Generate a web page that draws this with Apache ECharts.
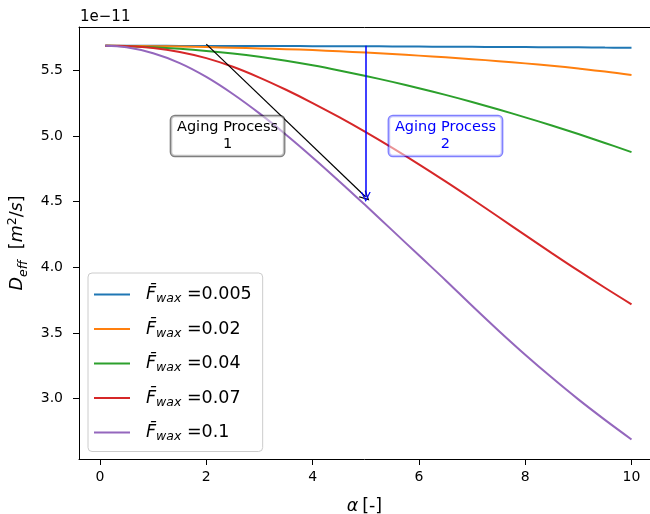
<!DOCTYPE html>
<html>
<head>
<meta charset="utf-8">
<script src="https://cdn.jsdelivr.net/npm/echarts@6/dist/echarts.min.js"></script>
<style>
  html, body { margin: 0; padding: 0; background: #fff; }
  #chart { width: 650px; height: 514px; }
</style>
</head>
<body>
<div id="chart"></div>
<script>
// Dimensionless time alpha
const alpha = [0.1, 0.5, 1, 1.5, 2, 2.5, 3, 3.5, 4, 4.5, 5, 5.5, 6, 6.5, 7, 7.5, 8, 8.5, 9, 9.5, 10];

// Effective diffusivity D_eff (units of 1e-11 m^2/s) for each wax fraction
const fwaxLabels = ['0.005', '0.02', '0.04', '0.07', '0.1'];
const dF0005 = [5.687, 5.687, 5.687, 5.686, 5.686, 5.686, 5.685, 5.685, 5.684, 5.684, 5.683, 5.682, 5.681, 5.680, 5.679, 5.678, 5.677, 5.676, 5.675, 5.673, 5.672];
const dF002  = [5.687, 5.686, 5.684, 5.681, 5.677, 5.672, 5.667, 5.661, 5.654, 5.645, 5.635, 5.624, 5.612, 5.599, 5.585, 5.570, 5.553, 5.535, 5.514, 5.491, 5.464];
const dF004  = [5.687, 5.684, 5.676, 5.664, 5.648, 5.628, 5.603, 5.573, 5.538, 5.499, 5.457, 5.412, 5.364, 5.313, 5.259, 5.202, 5.142, 5.080, 5.015, 4.947, 4.877];
const dF007  = [5.687, 5.684, 5.670, 5.640, 5.593, 5.527, 5.445, 5.352, 5.251, 5.143, 5.029, 4.909, 4.784, 4.654, 4.520, 4.383, 4.245, 4.108, 3.974, 3.844, 3.718];
const dF01   = [5.687, 5.675, 5.630, 5.555, 5.450, 5.320, 5.172, 5.010, 4.837, 4.656, 4.470, 4.281, 4.091, 3.902, 3.707, 3.517, 3.334, 3.160, 2.994, 2.838, 2.689];
const seriesValues = [dF0005, dF002, dF004, dF007, dF01];
const colors = ['#1f77b4', '#ff7f0e', '#2ca02c', '#d62728', '#9467bd'];

// Tick values
const xTicks = [0, 2, 4, 6, 8, 10];
const yTicks = [3.0, 3.5, 4.0, 4.5, 5.0, 5.5];

// Annotations (data coordinates)
const agingText1 = { text: 'Aging Process\n1', at: [2.4, 5.0] };
const agingText2 = { text: 'Aging Process\n2', at: [6.5, 5.0] };
const arrow1 = { from: [2.0, 5.7], to: [5.0, 4.535] };
const arrow2 = { from: [5.0, 5.687], to: [5.0, 4.535] };

const FONT = 'DejaVu Sans';
const X_MIN = -0.395, X_MAX = 10.348;
const Y_MIN = 2.54, Y_MAX = 5.83;
const openArrow = 'path://M0,10 L5,0 L10,10 L8.7,10 L5,2.6 L1.3,10 Z';

const lineSeries = fwaxLabels.map((name, k) => ({
  name: name,
  type: 'line',
  data: alpha.map((a, i) => [a, seriesValues[k][i]]),
  symbol: 'none',
  smooth: 0.4,
  lineStyle: { color: colors[k], width: 2 },
  itemStyle: { color: colors[k] },
  z: 2
}));

const boxLabel = (color, border) => ({
  show: true,
  position: 'inside',
  formatter: p => p.name,
  color: color,
  fontFamily: FONT,
  fontSize: 14.5,
  lineHeight: 17,
  align: 'center',
  backgroundColor: 'rgba(255,255,255,0.5)',
  borderColor: border,
  borderWidth: 1.3,
  borderRadius: 4,
  padding: [3, 6, 3, 6]
});

const annotationSeries = {
  name: 'annotations',
  type: 'line',
  data: [],
  z: 5,
  markLine: {
    silent: true,
    animation: false,
    symbol: ['none', openArrow],
    symbolSize: [10, 10],
    label: { show: false },
    data: [
      [{ coord: arrow1.from, lineStyle: { color: '#000', width: 1.2, type: 'solid' } }, { coord: arrow1.to }],
      [{ coord: arrow2.from, lineStyle: { color: '#0000ff', width: 1.5, type: 'solid' } }, { coord: arrow2.to }]
    ]
  },
  markPoint: {
    silent: true,
    animation: false,
    symbol: 'circle',
    symbolSize: 0,
    data: [
      { name: agingText1.text, coord: agingText1.at, label: boxLabel('#000', 'rgba(0,0,0,0.5)') },
      { name: agingText2.text, coord: agingText2.at, label: boxLabel('#0000ff', 'rgba(0,0,255,0.5)') }
    ]
  }
};

const axisBlack = { color: '#000', width: 1 };

const chart = echarts.init(document.getElementById('chart'), null, { renderer: 'canvas' });
chart.setOption({
  animation: false,
  backgroundColor: '#fff',
  textStyle: { fontFamily: FONT },
  grid: { left: 79, top: 27, right: 0, bottom: 55, containLabel: false, outerBoundsMode: 'none' },
  xAxis: [{
    type: 'value',
    min: X_MIN,
    max: X_MAX,
    name: '{a|α} {n|[-]}',
    nameLocation: 'middle',
    nameGap: 38,
    nameTextStyle: {
      rich: {
        a: { fontFamily: FONT, fontStyle: 'italic', fontSize: 17.5, color: '#000' },
        n: { fontFamily: FONT, fontSize: 17.5, color: '#000' }
      }
    },
    axisLine: { show: true, onZero: false, lineStyle: axisBlack },
    axisTick: { show: true, length: 6, customValues: xTicks, lineStyle: axisBlack },
    axisLabel: { customValues: xTicks, margin: 11, color: '#000', fontSize: 14, fontFamily: FONT, formatter: v => String(v) },
    splitLine: { show: false }
  }, {
    // top frame edge
    type: 'value',
    position: 'top',
    min: X_MIN,
    max: X_MAX,
    axisLine: { show: true, onZero: false, lineStyle: axisBlack },
    axisTick: { show: false },
    axisLabel: { show: false },
    splitLine: { show: false }
  }],
  yAxis: {
    type: 'value',
    min: Y_MIN,
    max: Y_MAX,
    name: '{d|D}{e|eff}{n|  [}{d|m}{p|2}{n|/}{d|s}{n|]}',
    nameLocation: 'middle',
    nameRotate: 90,
    nameGap: 45,
    nameTextStyle: {
      rich: {
        d: { fontFamily: FONT, fontStyle: 'italic', fontSize: 17.5, color: '#000', lineHeight: 24, verticalAlign: 'middle' },
        n: { fontFamily: FONT, fontSize: 17.5, color: '#000', lineHeight: 24, verticalAlign: 'middle' },
        e: { fontFamily: FONT, fontStyle: 'italic', fontSize: 12.5, color: '#000', lineHeight: 13, verticalAlign: 'bottom' },
        p: { fontFamily: FONT, fontSize: 12.5, color: '#000', lineHeight: 13, verticalAlign: 'top' }
      }
    },
    axisLine: { show: true, onZero: false, lineStyle: axisBlack },
    axisTick: { show: true, length: 6, customValues: yTicks, lineStyle: axisBlack },
    axisLabel: { customValues: yTicks, margin: 16, color: '#000', fontSize: 14, fontFamily: FONT, formatter: v => v.toFixed(1) },
    splitLine: { show: false }
  },
  legend: {
    data: fwaxLabels,
    orient: 'vertical',
    left: 88,
    top: 273,
    padding: [12.5, 11, 8, 6],
    itemGap: 14.5,
    icon: 'rect',
    itemWidth: 36,
    itemHeight: 2,
    backgroundColor: 'rgba(255,255,255,0.8)',
    borderColor: '#cccccc',
    borderWidth: 1,
    borderRadius: 4,
    selectedMode: false,
    formatter: name => '{sp|}{f|F\u0304}{w|wax}{t| =' + name + '}',
    textStyle: {
      rich: {
        sp: { width: 11, lineHeight: 22 },
        f: { fontFamily: FONT, fontStyle: 'italic', fontSize: 17.5, color: '#000', lineHeight: 22, verticalAlign: 'middle' },
        w: { fontFamily: FONT, fontStyle: 'italic', fontSize: 12.5, color: '#000', lineHeight: 12, verticalAlign: 'bottom' },
        t: { fontFamily: FONT, fontSize: 17.5, color: '#000', lineHeight: 22, verticalAlign: 'middle' }
      }
    }
  },
  graphic: [
    { type: 'text', left: 80, top: 10, style: { text: '1e\u221211', font: '15px "DejaVu Sans"', fill: '#000' } }
  ],
  series: lineSeries.concat([annotationSeries])
});
</script>
</body>
</html>
